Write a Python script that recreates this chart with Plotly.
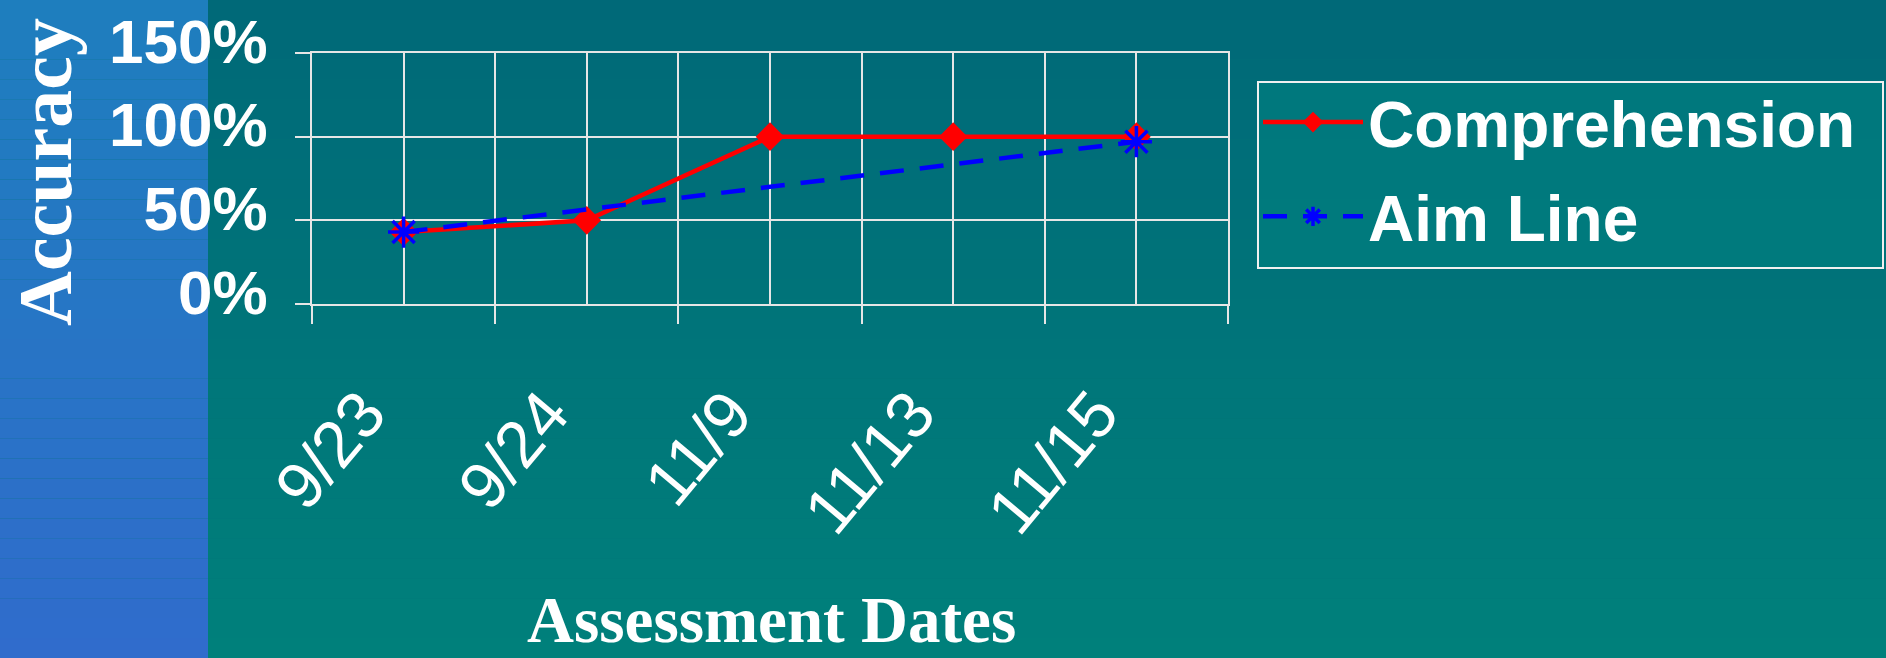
import plotly.graph_objects as go

# Assessment data
dates = ["9/23", "9/24", "11/9", "11/13", "11/15"]
comprehension = [43, 50, 100, 100, 100]
aim_line = [43, None, None, None, 97]
y_ticks = [0, 50, 100, 150]
y_tick_labels = ["0%", "50%", "100%", "150%"]

W, H = 1886, 658
SANS = "Liberation Sans, Arial, sans-serif"
SERIF = "Liberation Serif, Times New Roman, serif"


def px_x(p):
    return p / W


def px_y(p):
    return 1 - p / H


x_idx = list(range(len(dates)))

fig = go.Figure()
fig.add_trace(go.Scatter(
    x=x_idx, y=comprehension, name="Comprehension", mode="lines+markers",
    legendgroup="comp",
    line=dict(color="#FF0000", width=4.5),
    marker=dict(symbol="diamond", size=22, color="#FF0000"),
))
fig.add_trace(go.Scatter(
    x=x_idx, y=aim_line, name="Aim Line", mode="lines+markers", connectgaps=True,
    legendgroup="aim",
    line=dict(color="#0000FF", width=4.5, dash="24px,16px"),
    marker=dict(symbol="asterisk-open", size=26, color="#0000FF",
                line=dict(color="#0000FF", width=3.5)),
))

# vertical gradient background: blue strip at the left, teal elsewhere
def lerp(c0, c1, t):
    return "rgb(%d,%d,%d)" % tuple(round(a + (b - a) * t) for a, b in zip(c0, c1))

shapes = []
bands = 33
for i in range(bands):
    t = i / (bands - 1)
    y0 = px_y(i * H / bands)
    y1 = px_y((i + 1) * H / bands)
    shapes.append(dict(type="rect", xref="paper", yref="paper", layer="below",
                       x0=0, x1=px_x(208), y0=y1, y1=y0, line_width=0,
                       fillcolor=lerp((30, 126, 190), (48, 108, 204), t)))
    shapes.append(dict(type="rect", xref="paper", yref="paper", layer="below",
                       x0=px_x(208), x1=1, y0=y1, y1=y0, line_width=0,
                       fillcolor=lerp((0, 105, 120), (0, 128, 123), t)))

# frame behind the legend entries
shapes.append(dict(type="rect", xref="paper", yref="paper", layer="below",
                   x0=px_x(1258), x1=px_x(1883), y0=px_y(268), y1=px_y(82),
                   fillcolor="rgba(0,128,128,0.6)",
                   line=dict(color="#F0F0F0", width=2)))

grid = "#E6E6E6"
fig.update_layout(
    width=W, height=H,
    margin=dict(l=0, r=0, t=0, b=0, pad=0, autoexpand=False),
    paper_bgcolor="#00747A",
    plot_bgcolor="rgba(0,0,0,0)",
    shapes=shapes,
    showlegend=True,
    legend=dict(
        x=px_x(1258), y=px_y(74), xanchor="left", yanchor="top",
        bgcolor="rgba(0,0,0,0)", borderwidth=0,
        itemwidth=100, tracegroupgap=8,
        font=dict(family=SANS, size=64, color="white", weight="bold"),
    ),
    xaxis=dict(
        domain=[px_x(312), px_x(1228)],
        range=[-0.5, 4.5], automargin=False,
        tickmode="array", tickvals=x_idx, ticktext=dates,
        ticks="", showgrid=True, gridcolor=grid, gridwidth=2,
        tickangle=-50,
        tickfont=dict(family=SANS, size=66, color="white"),
        ticklabelstandoff=42, ticklabelshift=-40,
        showline=True, linecolor=grid, linewidth=2, mirror=True,
        zeroline=False,
        minor=dict(tickmode="array", tickvals=[i - 0.5 for i in range(len(dates) + 1)],
                   showgrid=True, gridcolor=grid, gridwidth=2,
                   ticks="outside", ticklen=18, tickwidth=2, tickcolor=grid),
    ),
    yaxis=dict(
        domain=[px_y(304), px_y(53)],
        range=[0, 150], automargin=False,
        tickmode="array", tickvals=y_ticks, ticktext=y_tick_labels,
        ticks="outside", ticklen=15, tickwidth=2, tickcolor=grid,
        showgrid=True, gridcolor=grid, gridwidth=2,
        tickfont=dict(family=SANS, size=62, color="white", weight="bold"),
        ticklabelstandoff=15, ticklabelshift=-12,
        showline=True, linecolor=grid, linewidth=2, mirror=True,
        zeroline=False,
    ),
    annotations=[
        dict(text="<b>Accuracy</b>", xref="paper", yref="paper",
             x=px_x(45), y=px_y(172), xanchor="center", yanchor="middle",
             textangle=-90, showarrow=False,
             font=dict(family=SERIF, size=76, color="white")),
        dict(text="<b>Assessment Dates</b>", xref="paper", yref="paper",
             x=px_x(771), y=0, xanchor="center", yanchor="bottom",
             showarrow=False,
             font=dict(family=SERIF, size=65, color="white")),
    ],
)

fig.write_html("out.html")
